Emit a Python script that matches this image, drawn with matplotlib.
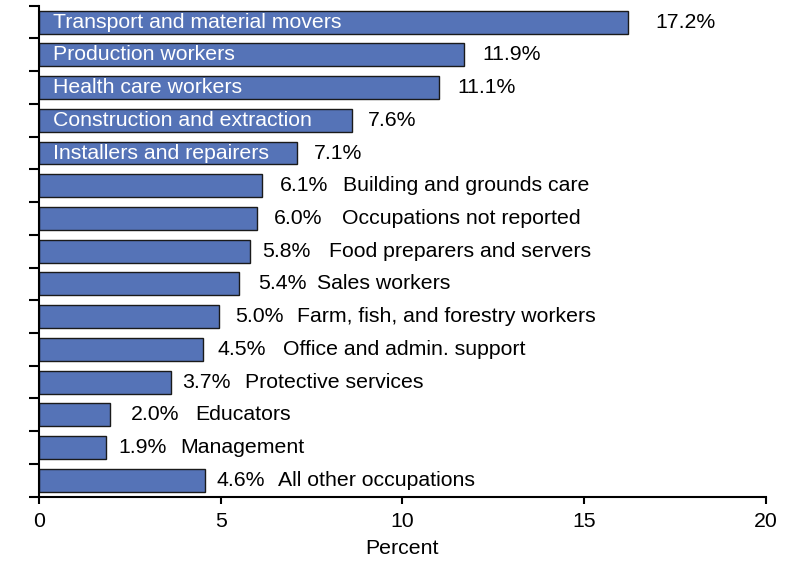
import matplotlib
matplotlib.use("Agg")
import matplotlib.pyplot as plt
import numpy as np

plt.rcParams['font.family'] = ['Liberation Sans', 'DejaVu Sans']

categories = [
    "Transport and material movers",
    "Production workers",
    "Health care workers",
    "Construction and extraction",
    "Installers and repairers",
    "Building and grounds care",
    "Occupations not reported",
    "Food preparers and servers",
    "Sales workers",
    "Farm, fish, and forestry workers",
    "Office and admin. support",
    "Protective services",
    "Educators",
    "Management",
    "All other occupations",
]
# bar lengths as drawn in the picture
bar_values = [16.2, 11.7, 11.0, 8.6, 7.1, 6.15, 6.0, 5.8, 5.5, 4.95, 4.5, 3.62, 1.95, 1.83, 4.57]
# value labels as printed
value_labels = ["17.2%", "11.9%", "11.1%", "7.6%", "7.1%", "6.1%", "6.0%", "5.8%",
                "5.4%", "5.0%", "4.5%", "3.7%", "2.0%", "1.9%", "4.6%"]
inside = [True, True, True, True, True] + [False] * 10

# label styling offsets (pixels)
value_gap = [28, 18, 19, 16, 17, 17, 17, 12, 19, 16, 15, 12, 21, 13, 11]
name_gap = [0, 0, 0, 0, 0, 64, 68, 67, 59, 62, 65, 62, 64, 62, 62]

fig = plt.figure(figsize=(7.96, 5.63), dpi=100)
ax = fig.add_axes([0.049, 0.1178, 0.913, 0.872])

n = len(categories)
y = np.arange(n)[::-1]
ax.barh(y, bar_values, height=0.70, color='#5573B7', edgecolor='#1a1a1a', linewidth=1.0, zorder=2)

fs = 15.3
for i in range(n):
    if inside[i]:
        ax.annotate(categories[i], xy=(0, y[i]), xytext=(14, 0), textcoords='offset pixels',
                    ha='left', va='center', color='white', fontsize=fs, zorder=3)
    ax.annotate(value_labels[i], xy=(bar_values[i], y[i]), xytext=(value_gap[i], 0),
                textcoords='offset pixels', ha='left', va='center', color='black', fontsize=fs)
    if not inside[i]:
        ax.annotate(categories[i], xy=(bar_values[i], y[i]), xytext=(value_gap[i] + name_gap[i], 0),
                    textcoords='offset pixels', ha='left', va='center', color='black', fontsize=fs)

ax.set_xlim(0, 20)
ax.set_ylim(-0.5, n - 0.5)
ax.set_xticks([0, 5, 10, 15, 20])
ax.set_yticks(np.arange(-0.5, n, 1.0))
ax.set_yticklabels([])
ax.tick_params(axis='x', direction='out', length=5, width=1.5, labelsize=fs, pad=6)
ax.tick_params(axis='y', direction='out', length=7, width=1.5)
for s in ['top', 'right']:
    ax.spines[s].set_visible(False)
for s in ['left', 'bottom']:
    ax.spines[s].set_linewidth(1.5)
ax.set_xlabel("Percent", fontsize=fs, labelpad=6)

fig.savefig("out.png", dpi=100)
